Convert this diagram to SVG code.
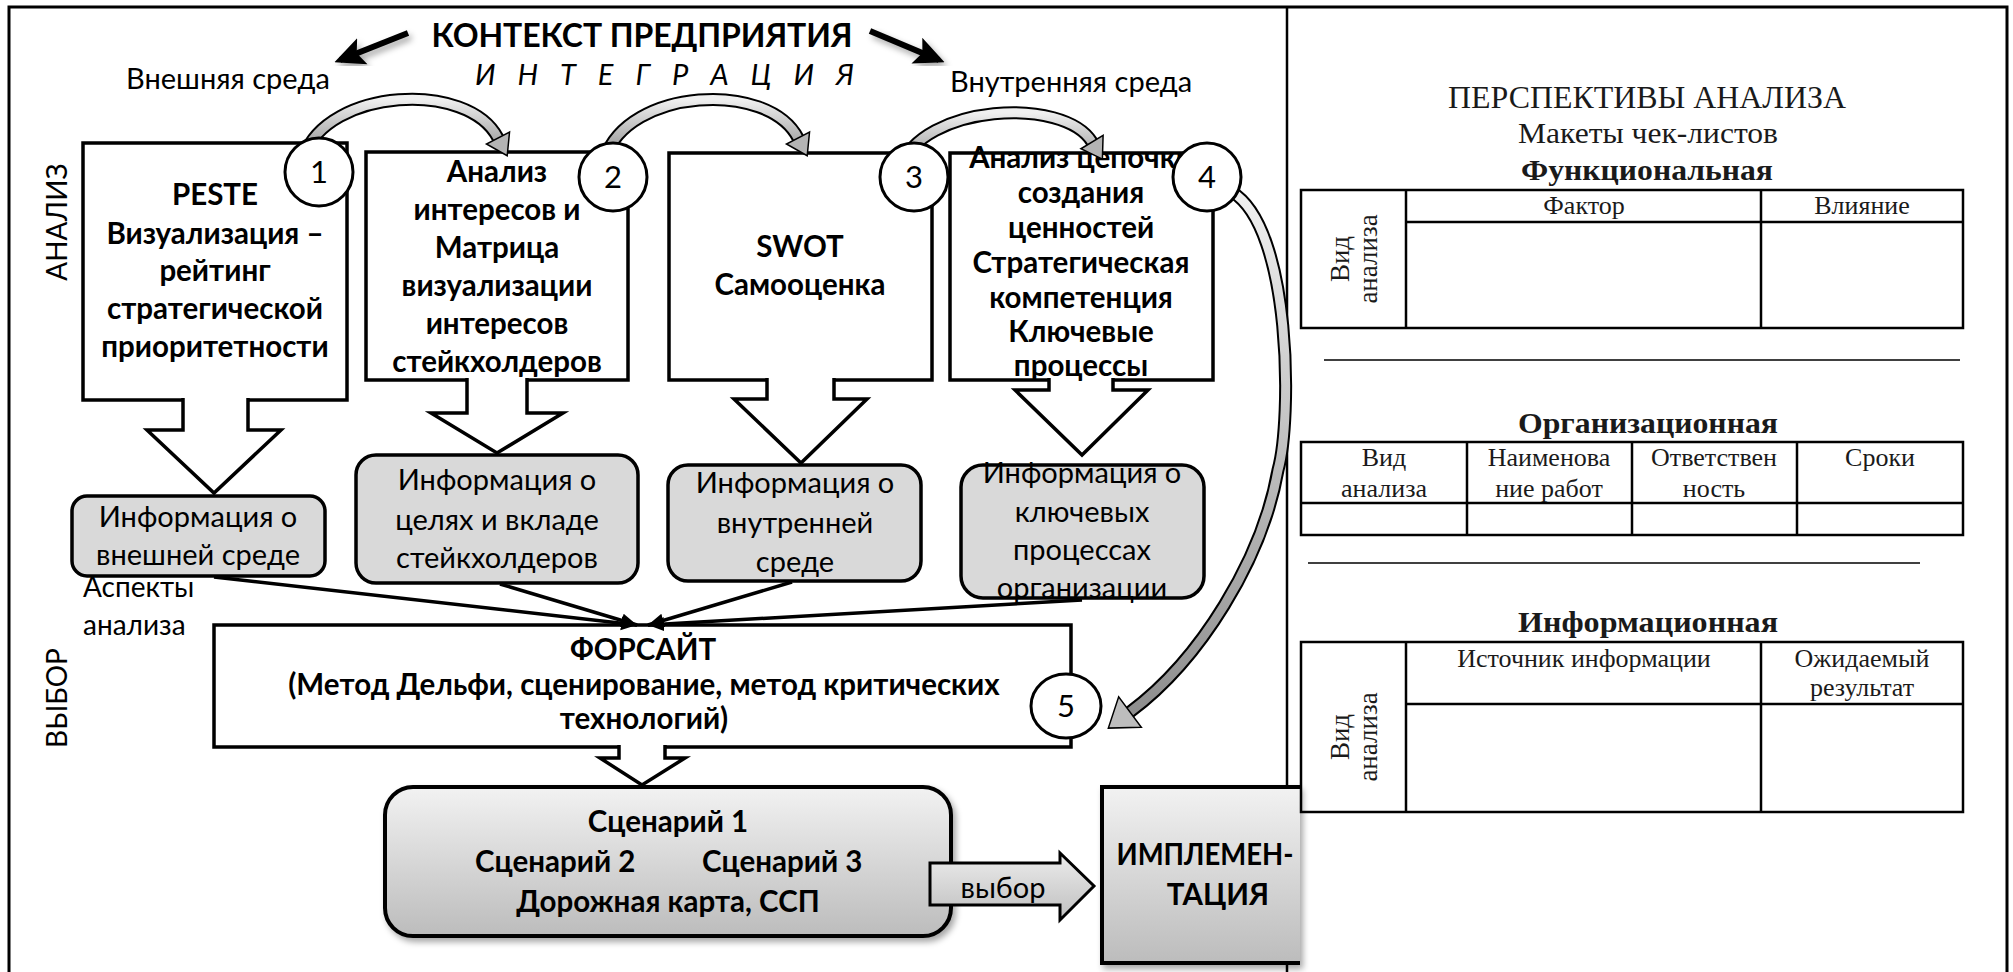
<svg xmlns="http://www.w3.org/2000/svg" width="2013" height="972" viewBox="0 0 2013 972">
  <defs>
    <style>
      .frame{fill:none;stroke:#000;stroke-width:3}
      .box{fill:#fff;stroke:#000;stroke-width:3.5}
      .info{fill:#d9d9d9;stroke:#000;stroke-width:3.5}
      .barrow{fill:#fff;stroke:#000;stroke-width:3.5;stroke-linejoin:miter}
      .num{fill:#fff;stroke:#000;stroke-width:3}
      .sans{font-family:Lato,'Liberation Sans',sans-serif;fill:#000}
      .b{font-weight:bold;font-size:29.5px;text-anchor:middle}
      .r{font-size:29px;text-anchor:middle}
      .st{text-anchor:start}
      .serif{font-family:'Liberation Serif','Times New Roman',serif;fill:#1a1a1a;text-anchor:middle}
      .tbl{fill:none;stroke:#000;stroke-width:2.5}
      .conn{stroke:#000;stroke-width:3.5;fill:none}
      .bandout{fill:none;stroke:#000;stroke-width:13}
      .bandin{fill:none;stroke:url(#band);stroke-width:9}
    </style>
    <linearGradient id="band" x1="0" y1="0" x2="0" y2="1">
      <stop offset="0" stop-color="#f0f0f0"/>
      <stop offset="1" stop-color="#8e8e8e"/>
    </linearGradient>
    <linearGradient id="scen" x1="0" y1="0" x2="0" y2="1">
      <stop offset="0" stop-color="#f2f2f2"/>
      <stop offset="1" stop-color="#bcbcbc"/>
    </linearGradient>
    <linearGradient id="choice" x1="0" y1="0" x2="0" y2="1">
      <stop offset="0" stop-color="#ececec"/>
      <stop offset="1" stop-color="#bfbfbf"/>
    </linearGradient>
    <marker id="tri" markerUnits="userSpaceOnUse" viewBox="0 -8 16 16" refX="16" refY="0" markerWidth="16" markerHeight="16" orient="auto">
      <path d="M0,-7 L16,0 L0,7 z" fill="#000"/>
    </marker>
    <marker id="bigtri" markerUnits="userSpaceOnUse" viewBox="0 -16 30 32" refX="24" refY="0" markerWidth="30" markerHeight="32" orient="auto">
      <path d="M0,-14 L30,0 L0,14 L6,0 z" fill="#000"/>
    </marker>
    <marker id="curvehead" markerUnits="userSpaceOnUse" viewBox="-2 -15 26 30" refX="0" refY="0" markerWidth="26" markerHeight="30" orient="auto">
      <path d="M0,-13 L20,0 L0,13 z" fill="#b4b4b4" stroke="#000" stroke-width="1.5"/>
    </marker>
    <marker id="curvehead2" markerUnits="userSpaceOnUse" viewBox="-2 -21 32 42" refX="0" refY="0" markerWidth="32" markerHeight="42" orient="auto">
      <path d="M0,-19 L27,0 L0,19 z" fill="#bdbdbd" stroke="#000" stroke-width="1.5"/>
    </marker>
    <filter id="shadow" x="-10%" y="-10%" width="130%" height="130%">
      <feDropShadow dx="3" dy="4" stdDeviation="3" flood-color="#000" flood-opacity="0.35"/>
    </filter>
  </defs>

  <rect x="0" y="0" width="2013" height="972" fill="#fff"/>

  <!-- page frame and panel divider -->
  <g id="frame">
    <path class="frame" d="M9,975 V7 H2007 V975"/>
    <line x1="1287" y1="7" x2="1287" y2="975" stroke="#000" stroke-width="2.5"/>
  </g>

  <!-- heading -->
  <g id="heading" class="sans">
    <text x="642" y="47" font-weight="bold" font-size="32" text-anchor="middle" textLength="421" lengthAdjust="spacing">КОНТЕКСТ ПРЕДПРИЯТИЯ</text>
    <text x="475" y="85" font-style="italic" font-size="29" textLength="379" lengthAdjust="spacing">И Н Т Е Г Р А Ц И Я</text>
    <text x="126" y="89" font-size="29">Внешняя среда</text>
    <text x="950" y="92" font-size="29">Внутренняя среда</text>
    <g filter="url(#shadow)">
      <line x1="408" y1="33" x2="340" y2="60" stroke="#000" stroke-width="6" marker-end="url(#bigtri)"/>
      <line x1="870" y1="31" x2="939" y2="60" stroke="#000" stroke-width="6" marker-end="url(#bigtri)"/>
    </g>
  </g>

  <!-- stage labels -->
  <g id="stages" class="sans" font-size="28" text-anchor="middle">
    <text transform="translate(67,222) rotate(-90)">АНАЛИЗ</text>
    <text transform="translate(67,698) rotate(-90)">ВЫБОР</text>
    <text x="83" y="597" class="st">Аспекты</text>
    <text x="83" y="635" class="st">анализа</text>
  </g>

  <!-- analysis blocks -->
  <g id="peste">
    <rect class="box" x="83" y="143" width="264" height="257"/>
    <path class="barrow" d="M183,398 V430 H147 L214,493 L281,430 H248 V398"/>
    <g class="sans b">
      <text x="215" y="205">PESTE</text>
      <text x="215" y="244">Визуализация –</text>
      <text x="215" y="281">рейтинг</text>
      <text x="215" y="319">стратегической</text>
      <text x="215" y="357">приоритетности</text>
    </g>
  </g>

  <g id="stakeholders">
    <rect class="box" x="366" y="152" width="262" height="228"/>
    <path class="barrow" d="M467,378 V413 H431 L497,453 L563,413 H527 V378"/>
    <g class="sans b">
      <text x="497" y="182">Анализ</text>
      <text x="497" y="220">интересов и</text>
      <text x="497" y="258">Матрица</text>
      <text x="497" y="296">визуализации</text>
      <text x="497" y="334">интересов</text>
      <text x="497" y="372">стейкхолдеров</text>
    </g>
  </g>

  <g id="swot">
    <rect class="box" x="669" y="153" width="263" height="227"/>
    <path class="barrow" d="M767,378 V399 H734 L801,463 L867,399 H834 V378"/>
    <g class="sans b">
      <text x="800" y="257">SWOT</text>
      <text x="800" y="295">Самооценка</text>
    </g>
  </g>

  <g id="valuechain">
    <rect class="box" x="950" y="153" width="263" height="227"/>
    <path class="barrow" d="M1049,378 V390 H1015 L1082,455 L1148,390 H1113 V378"/>
    <g class="sans b" font-size="25.5">
      <text x="1081" y="168">Анализ цепочки</text>
      <text x="1081" y="203">создания</text>
      <text x="1081" y="238">ценностей</text>
      <text x="1081" y="273">Стратегическая</text>
      <text x="1081" y="308">компетенция</text>
      <text x="1081" y="342">Ключевые</text>
      <text x="1081" y="376">процессы</text>
    </g>
  </g>

  <!-- information boxes -->
  <g id="info-external">
    <rect class="info" x="72" y="496" width="253" height="80" rx="15"/>
    <g class="sans r">
      <text x="198" y="527">Информация о</text>
      <text x="198" y="565">внешней среде</text>
    </g>
  </g>
  <g id="info-stakeholders">
    <rect class="info" x="356" y="455" width="282" height="128" rx="20"/>
    <g class="sans r">
      <text x="497" y="490">Информация о</text>
      <text x="497" y="530">целях и вкладе</text>
      <text x="497" y="568">стейкхолдеров</text>
    </g>
  </g>
  <g id="info-internal">
    <rect class="info" x="668" y="465" width="253" height="116" rx="20"/>
    <g class="sans r">
      <text x="795" y="493">Информация о</text>
      <text x="795" y="533">внутренней</text>
      <text x="795" y="572">среде</text>
    </g>
  </g>
  <g id="info-processes">
    <rect class="info" x="961" y="465" width="243" height="133" rx="22"/>
    <g class="sans r">
      <text x="1082" y="483">Информация о</text>
      <text x="1082" y="522">ключевых</text>
      <text x="1082" y="560">процессах</text>
      <text x="1082" y="598">организации</text>
    </g>
  </g>

  <!-- foresight -->
  <g id="foresight">
    <rect class="box" x="214" y="625" width="857" height="122"/>
    <path class="barrow" d="M619,745 V758 H600 L642,785 L685,758 H665 V745"/>
    <g class="sans b">
      <text x="643" y="660">ФОРСАЙТ</text>
      <text x="644" y="695">(Метод Дельфи, сценирование, метод критических</text>
      <text x="644" y="729">технологий)</text>
    </g>
  </g>

  <!-- scenarios -->
  <g id="scenarios">
    <rect x="385" y="787" width="566" height="149" rx="28" fill="url(#scen)" stroke="#000" stroke-width="4" filter="url(#shadow)"/>
    <g class="sans b">
      <text x="668" y="832">Сценарий 1</text>
      <text x="475" y="872" class="st">Сценарий 2</text>
      <text x="702" y="872" class="st">Сценарий 3</text>
      <text x="668" y="912">Дорожная карта, ССП</text>
    </g>
  </g>

  <!-- choice arrow -->
  <g id="choice-arrow">
    <path d="M930,863 H1060 V853 L1094,886 L1060,920 V905 H930 Z" fill="url(#choice)" stroke="#000" stroke-width="3"/>
    <text x="1003" y="898" class="sans" font-size="29" text-anchor="middle">выбор</text>
  </g>

  <!-- implementation -->
  <g id="implementation">
    <path d="M1300,787 H1102 V963 H1300" fill="url(#scen)" stroke="#000" stroke-width="4" filter="url(#shadow)"/>
    <g class="sans b">
      <text x="1205" y="865" textLength="177" lengthAdjust="spacingAndGlyphs">ИМПЛЕМЕН-</text>
      <text x="1218" y="905">ТАЦИЯ</text>
    </g>
  </g>

  <!-- connectors -->
  <g id="connectors">
    <line class="conn" x1="214" y1="577" x2="637" y2="625" marker-end="url(#tri)"/>
    <line class="conn" x1="500" y1="584" x2="637" y2="625" marker-end="url(#tri)"/>
    <line class="conn" x1="792" y1="582" x2="648" y2="625" marker-end="url(#tri)"/>
    <line class="conn" x1="1082" y1="600" x2="648" y2="625" marker-end="url(#tri)"/>

    <path class="bandout" d="M304,156 C328,88 468,80 498,138"/>
    <path class="bandin" d="M304,156 C328,88 468,80 498,138" marker-end="url(#curvehead)"/>
    <path class="bandout" d="M605,158 C628,88 768,80 798,138"/>
    <path class="bandin" d="M605,158 C628,88 768,80 798,138" marker-end="url(#curvehead)"/>
    <path class="bandout" d="M900,168 C922,104 1064,96 1092,142"/>
    <path class="bandin" d="M900,168 C922,104 1064,96 1092,142" marker-end="url(#curvehead)"/>
    <path class="bandout" d="M1232,192 C1292,228 1292,420 1278,470 C1262,560 1200,660 1130,712"/>
    <path class="bandin" d="M1232,192 C1292,228 1292,420 1278,470 C1262,560 1200,660 1130,712" marker-end="url(#curvehead2)"/>
  </g>

  <!-- numbered steps -->
  <g id="steps" class="sans" font-size="31" text-anchor="middle">
    <g id="step1"><circle class="num" cx="319" cy="172" r="34"/><text x="319" y="183">1</text></g>
    <g id="step2"><circle class="num" cx="613" cy="177" r="34"/><text x="613" y="188">2</text></g>
    <g id="step3"><circle class="num" cx="914" cy="177" r="34"/><text x="914" y="188">3</text></g>
    <g id="step4"><circle class="num" cx="1207" cy="177" r="34"/><text x="1207" y="188">4</text></g>
    <g id="step5"><ellipse class="num" cx="1066" cy="706" rx="35" ry="32"/><text x="1066" y="717">5</text></g>
  </g>

  <!-- checklists panel -->
  <g id="checklists">
    <text class="serif" x="1647" y="108" font-size="31" textLength="398" lengthAdjust="spacingAndGlyphs">ПЕРСПЕКТИВЫ АНАЛИЗА</text>
    <text class="serif" x="1648" y="143" font-size="29" textLength="260" lengthAdjust="spacingAndGlyphs">Макеты чек-листов</text>

    <g id="functional">
      <text class="serif" x="1647" y="180" font-size="29" font-weight="bold" textLength="252" lengthAdjust="spacingAndGlyphs">Функциональная</text>
      <rect class="tbl" x="1301" y="190" width="662" height="138"/>
      <path class="tbl" d="M1406,190 V328 M1761,190 V328 M1406,222 H1963"/>
      <g class="serif" font-size="26">
        <text x="1584" y="214">Фактор</text>
        <text x="1862" y="214">Влияние</text>
        <text transform="translate(1349,259) rotate(-90)" font-size="27">Вид</text>
        <text transform="translate(1377,259) rotate(-90)" font-size="27">анализа</text>
      </g>
    </g>
    <line x1="1324" y1="360" x2="1960" y2="360" stroke="#000" stroke-width="1.5"/>

    <g id="organizational">
      <text class="serif" x="1648" y="433" font-size="29" font-weight="bold" textLength="260" lengthAdjust="spacingAndGlyphs">Организационная</text>
      <rect class="tbl" x="1301" y="442" width="662" height="93"/>
      <path class="tbl" d="M1467,442 V535 M1632,442 V535 M1797,442 V535 M1301,503 H1963"/>
      <g class="serif" font-size="26">
        <text x="1384" y="466">Вид</text>
        <text x="1384" y="497">анализа</text>
        <text x="1549" y="466">Наименова</text>
        <text x="1549" y="497">ние работ</text>
        <text x="1714" y="466">Ответствен</text>
        <text x="1714" y="497">ность</text>
        <text x="1880" y="466">Сроки</text>
      </g>
    </g>
    <line x1="1308" y1="563" x2="1920" y2="563" stroke="#000" stroke-width="1.5"/>

    <g id="informational">
      <text class="serif" x="1648" y="632" font-size="29" font-weight="bold" textLength="260" lengthAdjust="spacingAndGlyphs">Информационная</text>
      <rect class="tbl" x="1301" y="642" width="662" height="170"/>
      <path class="tbl" d="M1406,642 V812 M1761,642 V812 M1406,704 H1963"/>
      <g class="serif" font-size="26">
        <text x="1584" y="667">Источник информации</text>
        <text x="1862" y="667">Ожидаемый</text>
        <text x="1862" y="696">результат</text>
        <text transform="translate(1349,737) rotate(-90)" font-size="27">Вид</text>
        <text transform="translate(1377,737) rotate(-90)" font-size="27">анализа</text>
      </g>
    </g>
  </g>
</svg>
